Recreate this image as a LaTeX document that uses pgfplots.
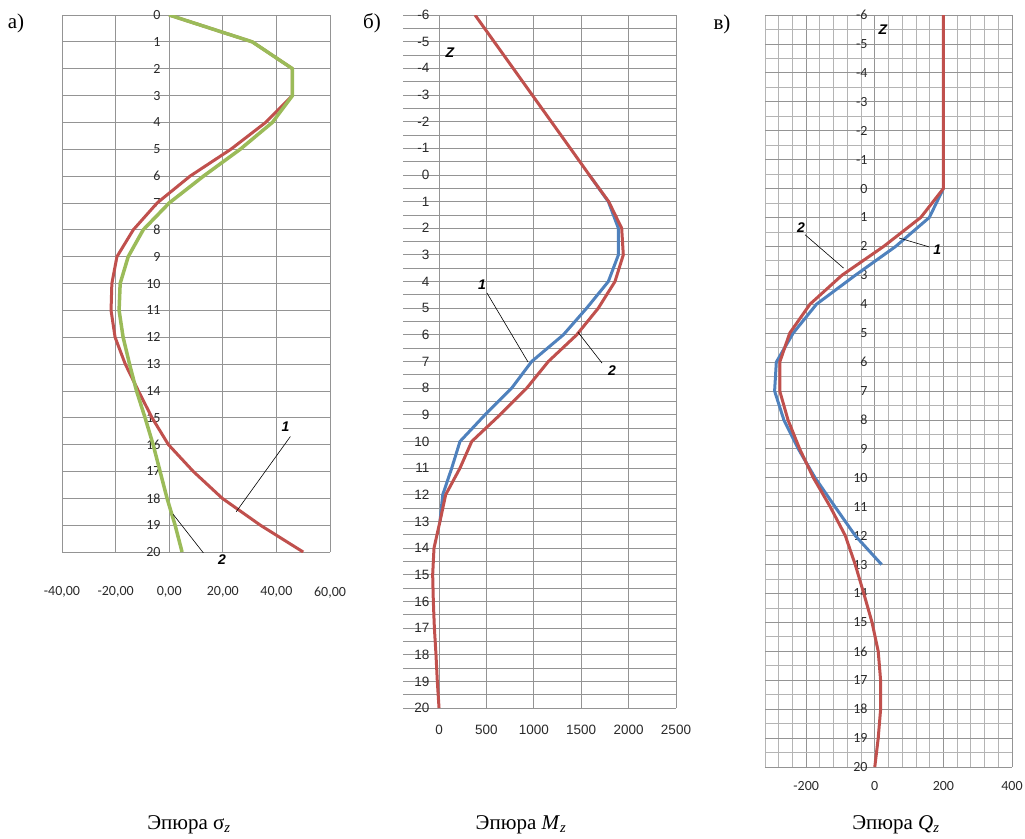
\documentclass[border=0pt]{standalone}
\usepackage{fontspec}
\setmainfont{Liberation Serif}
\newfontfamily\carlito{Carlito}
\newfontfamily\arialf{Liberation Sans}
\usepackage{pgfplots}
\pgfplotsset{compat=1.18}
\definecolor{xred}{HTML}{C0504D}
\definecolor{xgreen}{HTML}{9BBB59}
\definecolor{xblue}{HTML}{4F81BD}
\definecolor{gridc}{HTML}{949494}
\definecolor{gridl}{HTML}{B4B4B4}
\definecolor{tickc}{HTML}{2A2A2A}
\pgfplotsset{
  panel/.style={
    scale only axis, y dir=reverse,
    axis line style={draw=none},
    major tick length=0pt, minor tick length=0pt,
    /pgf/number format/assume math mode=true,
    /pgf/number format/1000 sep={},
    tick label style={text=tickc},
  },
}
\tikzset{annot/.style={font=\arialf\bfseries\itshape\fontsize{14}{14}\selectfont}}
\begin{document}
\begin{tikzpicture}[x=1pt,y=1pt]
\path[use as bounding box] (0,0) rectangle (1025,-838);

% ---------------- panel a ----------------
\begin{axis}[panel, at={(62pt,-15pt)}, anchor=north west,
  width=268pt, height=537pt,
  xmin=-40, xmax=60, ymin=0, ymax=20,
  xtick={-40,-20,...,60}, ytick={0,1,...,20},
  grid=major, major grid style={gridc, line width=0.8pt},
  tick label style={font=\carlito\fontsize{14}{14}\selectfont},
  yticklabel style={anchor=east, xshift=102pt},
  xticklabel style={yshift=-31pt, /pgf/number format/.cd, fixed, fixed zerofill, precision=2, use comma},
]
\addplot[xred, line width=3pt, line join=round] coordinates {
(0,0)(31,1)(46,2)(46,3)(36,4)(23,5)(7.8,6)(-4.5,7)(-13.4,8)(-19.5,9)(-21.4,10)(-21.7,11)(-20.2,12)(-16.4,13)(-11.5,14)(-6.4,15)(-0.3,16)(9,17)(19.8,18)(34,19)(50,20)};
\addplot[xgreen, line width=3.5pt, line join=round] coordinates {
(0,0)(31,1)(46,2)(46,3)(38.5,4)(26.5,5)(12.8,6)(0,7)(-9.7,8)(-15.3,9)(-18.3,10)(-18.7,11)(-17.2,12)(-14.8,13)(-12.2,14)(-9,15)(-6,16)(-3.4,17)(-0.8,18)(2.2,19)(4.8,20)};
\draw[black, line width=0.6pt] (axis cs:45.2,15.7) -- (axis cs:25,18.5);
\node[annot] at (axis cs:43.4,15.35) {1};
\draw[black, line width=0.6pt] (axis cs:17.2,20.6) -- (axis cs:1.5,18.6);
\end{axis}
\node[annot] at (222,-560) {2};

% ---------------- panel b ----------------
\begin{axis}[panel, at={(403pt,-15pt)}, anchor=north west,
  width=273pt, height=693pt,
  xmin=-380, xmax=2500, ymin=-6, ymax=20,
  xtick={0,500,...,2500}, ytick={-6,-5,...,20},
  minor ytick={-5.5,-4.5,...,19.5},
  grid=both, major grid style={gridc, line width=0.8pt}, minor grid style={gridc, line width=0.8pt},
  tick label style={font=\arialf\fontsize{13.5}{13.5}\selectfont},
  yticklabel style={anchor=east, xshift=30pt},
  xticklabel style={yshift=-14pt},
]
\addplot[xblue, line width=3pt, line join=round] coordinates {
(1585,0)(1786,1)(1892,2)(1892,3)(1786,4)(1557,5)(1311,6)(977,7)(766,8)(485,9)(221,10)(134,11)(39,12)(10,13)};
\addplot[xred, line width=3pt, line join=round] coordinates {
(380,-6)(581,-5)(782,-4)(983,-3)(1184,-2)(1385,-1)(1585,0)(1790,1)(1927,2)(1944,3)(1856,4)(1680,5)(1452,6)(1153,7)(925,8)(643,9)(345,10)(221,11)(70,12)(10,13)(-53,14)(-67,15)(-60,16)(-49,17)(-32,18)(-18,19)(0,20)};
\node[annot] at (axis cs:116,-4.6) {Z};
\node[annot] at (axis cs:454,4.1) {1};
\draw[black, line width=0.6pt] (axis cs:506,4.43) -- (axis cs:939,7.02);
\node[annot] at (axis cs:1825,7.35) {2};
\draw[black, line width=0.6pt] (axis cs:1720,7.06) -- (axis cs:1466,5.9);
\end{axis}

% ---------------- panel c ----------------
\begin{axis}[panel, at={(765pt,-15pt)}, anchor=north west,
  width=247pt, height=752pt,
  xmin=-320, xmax=400, ymin=-6, ymax=20,
  xtick={-200,0,200,400}, ytick={-6,-5,...,20},
  minor xtick={-320,-280,...,400},
  minor ytick={-5.5,-4.5,...,19.5},
  grid=both, major grid style={gridc, line width=0.8pt}, minor grid style={gridl, line width=0.8pt},
  tick label style={font=\carlito\fontsize{14}{14}\selectfont},
  yticklabel style={anchor=east, xshift=106pt},
  xticklabel style={yshift=-11pt},
]
\addplot[xblue, line width=3pt, line join=round] coordinates {
(200,0)(159,1)(61,2)(-57,3)(-170,4)(-238,5)(-287,6)(-292,7)(-265,8)(-223,9)(-174,10)(-116,11)(-57,12)(20,13)};
\addplot[xred, line width=3pt, line join=round] coordinates {
(200,-6)(200,0)(134,1)(26,2)(-96,3)(-189,4)(-248,5)(-277,6)(-277,7)(-253,8)(-219,9)(-179,10)(-130,11)(-86,12)(-57,13)(-32,14)(-8,15)(10,16)(17,17)(17,18)(10,19)(0,20)};
\node[annot] at (axis cs:24,-5.5) {Z};
\node[annot] at (axis cs:-215,1.35) {2};
\draw[black, line width=0.6pt] (axis cs:-203,1.6) -- (axis cs:-91,2.75);
\node[annot] at (axis cs:182,2.13) {1};
\draw[black, line width=0.6pt] (axis cs:159,2.02) -- (axis cs:71,1.71);
\end{axis}

% ---------------- labels ----------------
\node[font=\fontsize{21}{21}\selectfont] at (16,-23) {а)};
\node[font=\fontsize{21}{21}\selectfont] at (372,-23) {б)};
\node[font=\fontsize{21}{21}\selectfont] at (722,-24) {в)};
\node[font=\fontsize{21}{21}\selectfont] at (189,-825) {Эпюра σ\textsubscript{\textit{z}}};
\node[font=\fontsize{21}{21}\selectfont] at (521,-825) {Эпюра \textit{M}\textsubscript{\textit{z}}};
\node[font=\fontsize{21}{21}\selectfont] at (896,-825) {Эпюра \textit{Q}\textsubscript{\textit{z}}};
\end{tikzpicture}
\end{document}
